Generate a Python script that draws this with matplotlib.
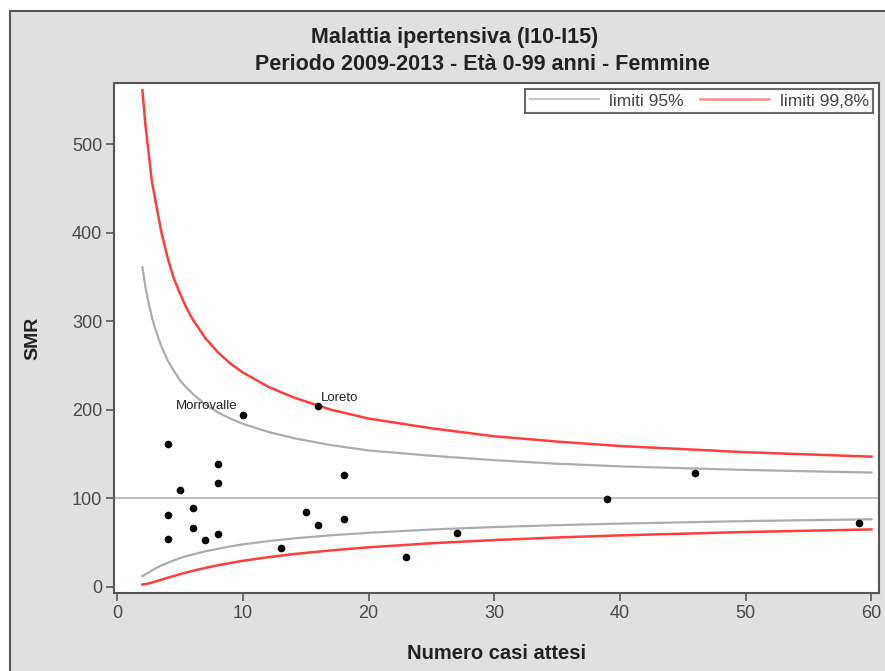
import matplotlib
matplotlib.use("Agg")
import matplotlib.pyplot as plt
from matplotlib.patches import Rectangle

plt.rcParams['font.family'] = ['Liberation Sans', 'DejaVu Sans']

# observed points: expected cases vs SMR
attesi = [4, 10, 16, 8, 8, 5, 18, 6, 4, 15, 18, 16, 6, 4, 7, 8, 13, 23, 27, 39, 46, 59]
smr = [161, 194, 204, 139, 117, 109, 126, 89, 81, 84, 77, 70, 66, 54, 53, 60, 44, 34, 61, 99, 129, 72]

# control limits
x_lim = [2, 2.25, 2.5, 2.75, 3, 3.5, 4, 4.5, 5, 5.5, 6, 7, 8, 9, 10, 12, 14, 17, 20, 25, 30, 35, 40, 50, 60]
up95 = [361, 338, 320, 305, 292, 272, 256, 244, 233, 225, 218, 206, 197, 190, 184, 175, 168, 160, 154, 148, 143, 139, 136, 132, 129]
lo95 = [12, 14.3, 16, 18.4, 20.5, 24, 27, 29.8, 32.5, 34.6, 36.5, 40, 43, 45.6, 48, 51.6, 54.6, 58.2, 61, 64.7, 67.5, 69.6, 71.4, 74.2, 76.3]
up998 = [561, 520, 490, 458, 439, 401, 372, 348, 331, 315, 302, 281, 265, 252, 242, 226, 214, 200, 190, 179, 170, 164, 159, 152, 147]
lo998 = [2.5, 3.1, 3.8, 4.8, 5.8, 8, 10.2, 12.2, 14.3, 16.2, 18, 21.3, 24.3, 26.9, 29.4, 33.4, 36.9, 41.1, 44.6, 49.2, 52.8, 55.7, 58.1, 61.9, 64.8]

fig = plt.figure(figsize=(8.85, 6.71), dpi=100)
fig.patch.set_facecolor('white')
# grey panel with dark border
fig.patches.append(Rectangle((10/885, -0.01), 1.0, 1 - 11/671 + 0.01, transform=fig.transFigure,
                             facecolor='#e0e0e0', edgecolor='#555555', linewidth=1.5, zorder=-10))

ax = fig.add_axes([114/885, 1 - 593/671, (879 - 114)/885, (593 - 83)/671])
ax.set_facecolor('white')

ax.axhline(100, color='#b4b4b4', linewidth=1.2, zorder=1)
ax.plot(x_lim, up95, color='#acacac', linewidth=1.6, label='limiti 95%')
ax.plot(x_lim, lo95, color='#acacac', linewidth=1.6)
ax.plot(x_lim, up998, color='#ff3d3d', linewidth=1.8, label='limiti 99,8%')
ax.plot(x_lim, lo998, color='#ff3d3d', linewidth=1.8)
ax.plot(attesi, smr, 'o', color='black', markersize=4.5, zorder=5)

ax.text(9.6, 197, 'Morrovalle', fontsize=9.5, ha='right', va='bottom', color='#222222')
ax.text(16.2, 206, 'Loreto', fontsize=9.5, ha='left', va='bottom', color='#222222')

ax.set_xlim(-0.26, 60.6)
ax.set_ylim(-7, 569)
ax.set_xticks([0, 10, 20, 30, 40, 50, 60])
ax.set_yticks([0, 100, 200, 300, 400, 500])
ax.tick_params(labelsize=13, colors='#555555', labelcolor='#4a4a4a', length=6, width=1.2, pad=2.5)
for s in ax.spines.values():
    s.set_color('#555555')
    s.set_linewidth(1.5)

ax.set_xlabel('Numero casi attesi', fontsize=14.5, fontweight='bold', color='#222222', labelpad=16)
ax.set_ylabel('SMR', fontsize=14, fontweight='bold', color='#222222', labelpad=22)

fig.text(455/885, 1 - 38/671, 'Malattia ipertensiva (I10-I15)', fontsize=15.5, fontweight='bold',
         ha='center', va='center', color='#222222')
fig.text(482/885, 1 - 64/671, 'Periodo 2009-2013 - Età 0-99 anni - Femmine', fontsize=15.5,
         fontweight='bold', ha='center', va='center', color='#222222')

leg = ax.legend(loc='upper right', ncol=2, fontsize=12.5, frameon=True, fancybox=False,
                borderaxespad=0.35, handlelength=4, handletextpad=0.6, columnspacing=0.9,
                borderpad=0.25, labelcolor='#444444')
leg.get_frame().set_edgecolor('#444444')
leg.get_frame().set_linewidth(1.5)
leg.get_lines()[0].set_color('#c8c8c8')
leg.get_lines()[1].set_color('#ff8a8a')

fig.savefig('out.png', dpi=100)
